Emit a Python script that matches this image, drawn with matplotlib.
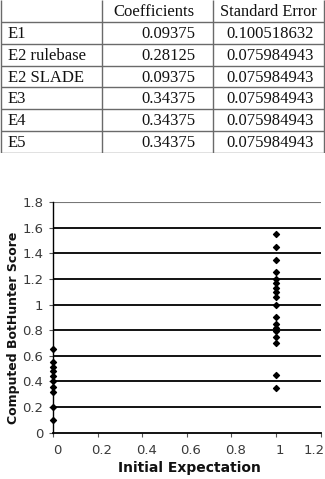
import matplotlib
matplotlib.use("Agg")
import matplotlib.pyplot as plt
import matplotlib.transforms as mtransforms
import numpy as np

# ---- table data ----
row_labels = ["E1", "E2 rulebase", "E2 SLADE", "E3", "E4", "E5"]
col_headers = ["", "Coefficients", "Standard Error"]
coefficients = ["0.09375", "0.28125", "0.09375", "0.34375", "0.34375", "0.34375"]
std_errors = ["0.100518632", "0.075984943", "0.075984943", "0.075984943",
              "0.075984943", "0.075984943"]

# ---- scatter data ----
x_expect0 = [0, 0, 0, 0, 0, 0, 0, 0, 0, 0]
y_expect0 = [0.65, 0.55, 0.51, 0.48, 0.44, 0.40, 0.36, 0.32, 0.20, 0.10]
x_expect1 = [1] * 18
y_expect1 = [1.55, 1.45, 1.35, 1.25, 1.20, 1.17, 1.13, 1.10, 1.06, 1.00,
             0.90, 0.85, 0.82, 0.79, 0.75, 0.70, 0.45, 0.35]
x_ticks = [0, 0.2, 0.4, 0.6, 0.8, 1, 1.2]
x_ticklabels = ["0", "0.2", "0.4", "0.6", "0.8", "1", "1.2"]
y_ticks = [0, 0.2, 0.4, 0.6, 0.8, 1, 1.2, 1.4, 1.6, 1.8]
y_ticklabels = ["0", "0.2", "0.4", "0.6", "0.8", "1", "1.2", "1.4", "1.6", "1.8"]

W, H = 325, 479
fig = plt.figure(figsize=(W / 100, H / 100), dpi=100)
fig.patch.set_facecolor("white")

# ---- table drawn in pixel coordinates ----
tab_top, tab_bot = 0, 153
tax = fig.add_axes([0, 1 - tab_bot / H, 1, tab_bot / H])
tax.set_xlim(0, W)
tax.set_ylim(tab_bot, tab_top)
tax.axis("off")
nrows = len(row_labels) + 1
row_h = (tab_bot - tab_top) / nrows
col_edges = [1, 102, 213, 324]
line_c = "#6a6a6a"
for i in range(1, nrows + 1):
    yy = tab_top + i * row_h
    tax.plot([col_edges[0], col_edges[-1]], [yy, yy], color=line_c, lw=1.0,
             solid_capstyle="butt")
for xe in col_edges:
    tax.plot([xe, xe], [tab_top, tab_bot], color=line_c, lw=1.0,
             solid_capstyle="butt")

tfont = dict(family="Liberation Serif", fontsize=12, color="#111111",
             va="center")
tax.text(195, tab_top + 0.55 * row_h, col_headers[1], ha="right", **tfont)
tax.text(268, tab_top + 0.55 * row_h, col_headers[2], ha="center",
         **{**tfont, "fontsize": 11.8})
for r, (lab, c, s) in enumerate(zip(row_labels, coefficients, std_errors)):
    yc = tab_top + (r + 1.55) * row_h
    tax.text(8, yc, lab, ha="left", **tfont)
    tax.text(195, yc, c, ha="right", **tfont)
    tax.text(314, yc, s, ha="right", **tfont)

# ---- scatter ----
ax_l, ax_r, ax_t, ax_b = 53, 320.6, 202, 432.7
ax = fig.add_axes([ax_l / W, 1 - ax_b / H, (ax_r - ax_l) / W, (ax_b - ax_t) / H])
ax.set_xlim(0, 1.2)
ax.set_ylim(0, 1.8)
for yv in y_ticks[1:]:
    ax.axhline(yv, color="black" if yv != 1.8 else "#777777",
               lw=1.3 if yv != 1.8 else 0.8, zorder=1)
ax.scatter(x_expect0, y_expect0, s=9, color="black", marker="D", zorder=3,
           clip_on=False)
ax.scatter(x_expect1, y_expect1, s=9, color="black", marker="D", zorder=3)

for side in ["top", "right"]:
    ax.spines[side].set_visible(False)
ax.spines["left"].set_color("black")
ax.spines["bottom"].set_color("black")
ax.spines["left"].set_linewidth(1.0)
ax.spines["bottom"].set_linewidth(1.3)

ax.set_xticks(x_ticks)
ax.set_xticklabels(x_ticklabels)
ax.set_yticks(y_ticks)
ax.set_yticklabels(y_ticklabels)
ax.tick_params(axis="both", direction="out", length=3, width=0.8,
               color="#555555", labelsize=9.5, labelcolor="#3a3a3a")
ax.tick_params(axis="x", pad=5)
ax.tick_params(axis="y", pad=4)
for lab in ax.get_xticklabels() + ax.get_yticklabels():
    lab.set_family("DejaVu Sans")
xlabs = ax.get_xticklabels()
for i, lab in enumerate(xlabs):
    dx = 3 / 72 if i < len(xlabs) - 1 else -5 / 72
    lab.set_transform(lab.get_transform() +
                      mtransforms.ScaledTranslation(dx, 0, fig.dpi_scale_trans))

ax.set_xlabel("Initial Expectation", fontsize=10, fontweight="bold",
              family="DejaVu Sans", color="#111111")
ax.set_ylabel("Computed BotHunter Score", fontsize=9, fontweight="bold",
              family="DejaVu Sans", color="#111111")
ax.xaxis.label.set_va("center")
ax.yaxis.label.set_va("center")
ax.xaxis.set_label_coords(0.508, -0.153)
ax.yaxis.set_label_coords(-0.149, 0.456)

fig.savefig("out.png", dpi=100)
